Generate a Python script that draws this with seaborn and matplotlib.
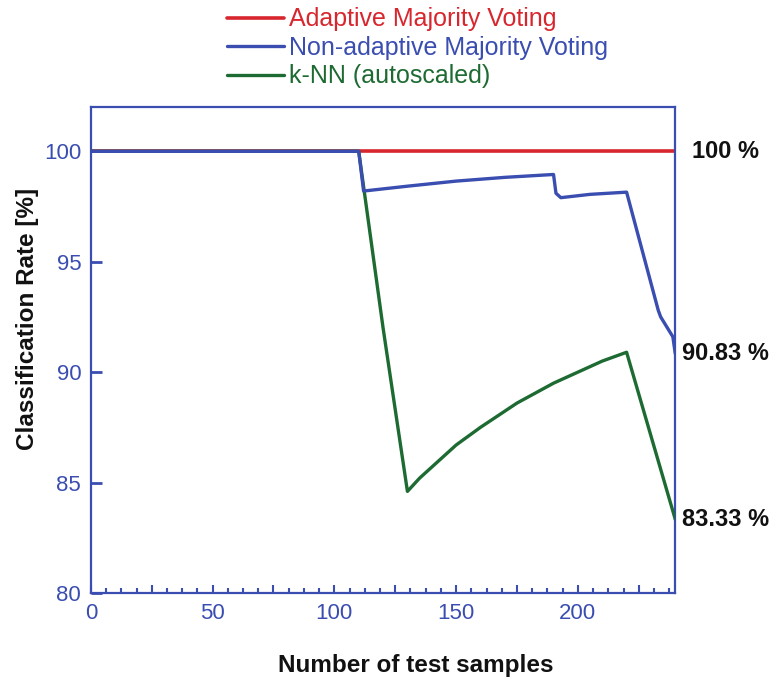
import matplotlib
matplotlib.use('Agg')
import matplotlib.pyplot as plt
from matplotlib.ticker import MultipleLocator, FuncFormatter
import pandas as pd
import seaborn as sns

# values
adaptive_x = [0, 240]
adaptive_y = [100, 100]

nonadaptive_x = [0, 110, 112, 130, 150, 170, 190, 191, 193, 205, 220, 233, 234, 239, 240]
nonadaptive_y = [100, 100, 98.2, 98.42, 98.65, 98.82, 98.95, 98.1, 97.9, 98.05, 98.15, 92.8, 92.5, 91.6, 90.83]

knn_x = [0, 110, 120, 130, 135, 140, 150, 160, 175, 190, 200, 210, 220, 240]
knn_y = [100, 100, 92.0, 84.6, 85.2, 85.7, 86.7, 87.5, 88.6, 89.5, 90.0, 90.5, 90.9, 83.33]

labels = ['Adaptive Majority Voting', 'Non-adaptive Majority Voting', 'k-NN (autoscaled)']
colors = ['#d8262e', '#3a4db0', '#1d6b32']
final_labels = ['100 %', '90.83 %', '83.33 %']
final_values = [100, 90.83, 83.33]

sns.set_theme(style='white')
plt.rcParams['font.family'] = ['Liberation Sans', 'DejaVu Sans']

axis_blue = '#3a4db0'

fig = plt.figure(figsize=(7.7, 6.78), dpi=100)
ax = fig.add_axes([0.118, 0.1254, 0.759, 0.7166])

series = [
    pd.DataFrame({'x': adaptive_x, 'y': adaptive_y}),
    pd.DataFrame({'x': nonadaptive_x, 'y': nonadaptive_y}),
    pd.DataFrame({'x': knn_x, 'y': knn_y}),
]
zorders = [2, 4, 3]
widths = [2.6, 2.4, 2.4]
for df, lab, col, z, lw in zip(series, labels, colors, zorders, widths):
    sns.lineplot(data=df, x='x', y='y', ax=ax, color=col, linewidth=lw,
                 label=lab, zorder=z)

ax.set_xlim(0, 240)
ax.set_ylim(80, 102)
ax.xaxis.set_major_locator(MultipleLocator(25))
ax.xaxis.set_major_formatter(FuncFormatter(lambda v, p: f'{v:.0f}' if v % 50 == 0 else ''))
ax.xaxis.set_minor_locator(MultipleLocator(6.25))
ax.yaxis.set_major_locator(MultipleLocator(5))

ax.tick_params(axis='x', which='major', direction='in', length=6, width=1.5,
               colors=axis_blue, labelsize=16, pad=7, bottom=True)
ax.tick_params(axis='x', which='minor', direction='in', length=3.5, width=1.5,
               colors=axis_blue, bottom=True)
ax.tick_params(axis='y', which='major', direction='in', length=8, width=2,
               colors=axis_blue, labelsize=16, pad=7, left=True)

for sp in ax.spines.values():
    sp.set_color(axis_blue)
    sp.set_linewidth(1.6)

ax.set_xlabel('Number of test samples', fontsize=17.5, fontweight='bold',
              color='#111111')
ax.set_ylabel('Classification Rate [%]', fontsize=17.5, fontweight='bold',
              color='#111111')
ax.xaxis.set_label_coords(0.5565, -0.125)
ax.yaxis.set_label_coords(-0.089, 0.564)

for txt, val in zip(final_labels, final_values):
    dx = 12 if txt == '100 %' else 5
    ax.annotate(txt, xy=(1, val), xycoords=('axes fraction', 'data'),
                xytext=(dx, 0), textcoords='offset points', va='center',
                ha='left', fontsize=17, fontweight='bold', color='#111111',
                annotation_clip=False)

handles, labs = ax.get_legend_handles_labels()
ax.get_legend().remove()
fig.legend(handles, labs, loc='upper center', bbox_to_anchor=(0.542, 1.004),
           frameon=False, fontsize=18, labelcolor=colors, handlelength=2.3,
           handletextpad=0.2, labelspacing=0.18, borderaxespad=0.0)

fig.savefig('out.png', dpi=100)
